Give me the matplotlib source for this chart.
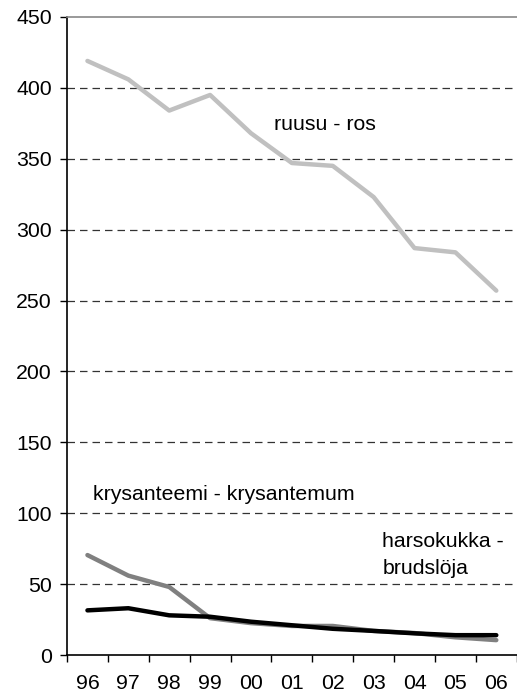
import matplotlib
matplotlib.use("Agg")
import matplotlib.pyplot as plt
import numpy as np

plt.rcParams['font.family'] = ['Liberation Sans', 'DejaVu Sans']

years = ["96", "97", "98", "99", "00", "01", "02", "03", "04", "05", "06"]
ruusu = [419, 406, 384, 395, 368, 347, 345, 323, 287, 284, 257]
krysanteemi = [70.5, 56, 48, 26, 22.5, 20.5, 20.5, 17, 15.5, 12.5, 10.5]
harsokukka = [31.5, 33, 28, 27, 23.5, 21, 18.5, 17, 15.3, 14, 14]
yticks = [0, 50, 100, 150, 200, 250, 300, 350, 400, 450]

FS = 15.3

fig = plt.figure(figsize=(5.17, 6.93), dpi=100)
ax = fig.add_axes([0.1296, 0.0548, 0.8704 - 0.0005, 0.9755 - 0.0548])
x = np.arange(len(years))

ax.plot(x, ruusu, color="#c0c0c0", lw=3.2, solid_capstyle="round", zorder=3)
ax.plot(x, krysanteemi, color="#808080", lw=3.2, solid_capstyle="round", zorder=3)
ax.plot(x, harsokukka, color="#000000", lw=3.2, solid_capstyle="round", zorder=4)

ax.set_xlim(-0.5, len(years) - 0.5)
ax.set_ylim(0, 450)
ax.set_yticks(yticks)
for v in yticks[1:-1]:
    ax.axhline(v, color="#333333", lw=0.9, ls=(0, (6, 4)), zorder=1)

ax.set_xticks(x)
ax.set_xticklabels(years)
ax.set_xticks(np.arange(-0.5, len(years) + 0.5, 1), minor=True)
ax.tick_params(axis="x", which="major", length=0, pad=14, labelsize=FS)
ax.tick_params(axis="x", which="minor", length=5, width=1, direction="out")
ax.tick_params(axis="y", length=5, width=1, pad=6, labelsize=FS)

ax.spines["right"].set_visible(False)
ax.spines["top"].set_color("#888888")
ax.spines["top"].set_linewidth(1.2)
ax.spines["left"].set_linewidth(1.2)
ax.spines["bottom"].set_linewidth(1.2)

ax.text(4.57, 374, "ruusu - ros", fontsize=FS, ha="left", va="center")
ax.text(0.13, 113, "krysanteemi - krysantemum", fontsize=FS, ha="left", va="center")
ax.text(7.21, 80, "harsokukka -", fontsize=FS, ha="left", va="center")
ax.text(7.21, 61, "brudslöja", fontsize=FS, ha="left", va="center")

fig.savefig("out.png", dpi=100)
